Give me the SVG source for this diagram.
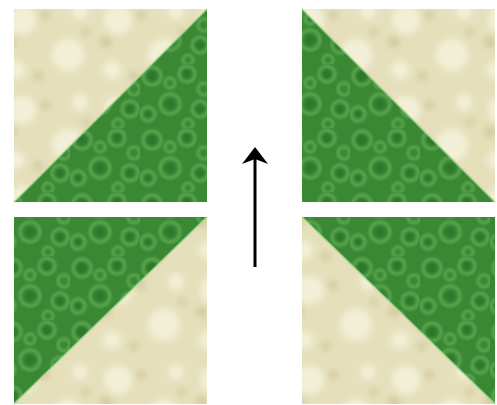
<svg xmlns="http://www.w3.org/2000/svg" width="497" height="405" viewBox="0 0 497 405">
<style>
.green{fill:url(#gp)}
.cream{fill:url(#cp)}
.seam{stroke:#a8d890;stroke-width:2;opacity:0.6}
.arrow{stroke:#000;stroke-width:3}
</style>
<defs>
<filter id="soft" x="-10%" y="-10%" width="120%" height="120%"><feGaussianBlur stdDeviation="1.2"/></filter>
<filter id="softer" x="-20%" y="-20%" width="140%" height="140%"><feGaussianBlur stdDeviation="3"/></filter>
<pattern id="gp" width="70" height="64" patternUnits="userSpaceOnUse">
<rect width="70" height="64" fill="#3a8734"/>
<g filter="url(#soft)">
<g fill="#2c7229" opacity="0.7">
<circle cx="12" cy="12" r="5"/>
<circle cx="47" cy="10" r="4"/>
<circle cx="30" cy="40" r="5"/>
<circle cx="60" cy="45" r="4"/>
<circle cx="8" cy="50" r="3"/>
</g>
<g fill="none" stroke="#5ea952" stroke-width="3.5" opacity="0.85">
<circle cx="12" cy="12" r="9"/>
<circle cx="47" cy="10" r="8"/>
<circle cx="30" cy="40" r="10"/>
<circle cx="60" cy="45" r="8"/>
<circle cx="8" cy="50" r="7"/>
<circle cx="30" cy="19" r="5"/>
<circle cx="64" cy="25" r="6"/>
<circle cx="48" cy="60" r="5"/>
</g>
</g>
</pattern>
<pattern id="cp" width="96" height="90" patternUnits="userSpaceOnUse">
<rect width="96" height="90" fill="#e5e0bb"/>
<g filter="url(#softer)">
<g fill="#f4f2dc" opacity="0.85">
<circle cx="22" cy="20" r="14"/>
<circle cx="68" cy="55" r="16"/>
<circle cx="16" cy="70" r="9"/>
<circle cx="80" cy="12" r="8"/>
</g>
<g fill="#c9bd8f" opacity="0.6">
<circle cx="45" cy="15" r="5"/>
<circle cx="86" cy="32" r="4"/>
<circle cx="38" cy="76" r="5"/>
<circle cx="10" cy="42" r="6"/>
</g>
</g>
</pattern>
</defs>
<g id="block-top-left">
<polygon class="cream" points="14,9 207,9 14,202"/>
<polygon class="green" points="207,9 207,202 14,202"/>
<line class="seam" x1="14" y1="202" x2="207" y2="9"/>
</g>
<g id="block-top-right">
<polygon class="cream" points="302,9 495,9 495,202"/>
<polygon class="green" points="302,9 495,202 302,202"/>
<line class="seam" x1="302" y1="9" x2="495" y2="202"/>
</g>
<g id="block-bottom-left">
<polygon class="green" points="14,217 207,217 14,404"/>
<polygon class="cream" points="207,217 207,404 14,404"/>
<line class="seam" x1="14" y1="404" x2="207" y2="217"/>
</g>
<g id="block-bottom-right">
<polygon class="green" points="302,217 495,217 495,404"/>
<polygon class="cream" points="302,217 495,404 302,404"/>
<line class="seam" x1="302" y1="217" x2="495" y2="404"/>
</g>
<g id="connectors">
<line x1="255" y1="267" x2="255" y2="152" class="arrow"/>
<path d="M255,147 L268,164 L255,159 L242,164 Z" fill="#000"/>
</g>
</svg>
